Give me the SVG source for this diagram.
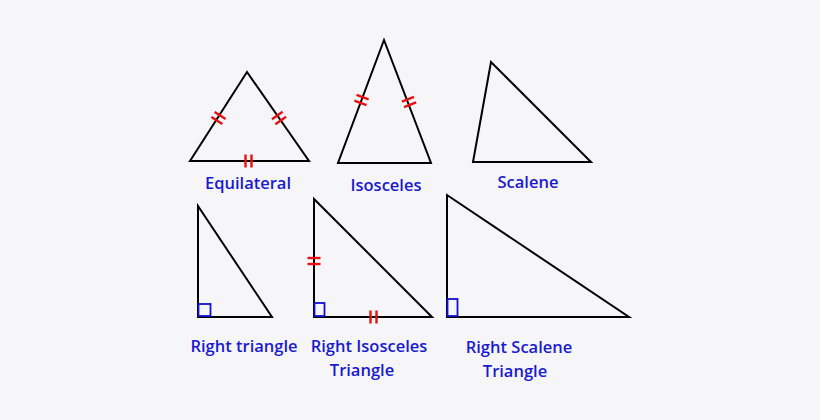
<svg xmlns="http://www.w3.org/2000/svg" width="820" height="420" viewBox="0 0 820 420">
<style>
.tri{fill:none;stroke:#000;stroke-width:2;stroke-linejoin:miter}
.sq{fill:none;stroke:#1010d0;stroke-width:1.8}
.tk{stroke:#e81010;stroke-width:2.4}
.lb{font-family:"Open Sans","Liberation Sans",sans-serif;font-weight:600;font-size:16.5px;fill:#1a1ad0;text-anchor:middle}
</style>
<defs>
<g id="tick"><line class="tk" x1="-3" y1="-6.5" x2="-3" y2="6.5"/><line class="tk" x1="3" y1="-6.5" x2="3" y2="6.5"/></g>
</defs>
<rect width="820" height="420" fill="#f6f6f8"/>
<g id="equilateral">
<polygon class="tri" points="247,72 190,161 309,161"/>
<use href="#tick" transform="translate(218.5,118) rotate(-57.4)"/>
<use href="#tick" transform="translate(279,118) rotate(55)"/>
<use href="#tick" transform="translate(248.5,161)"/>
<text class="lb" x="248" y="189">Equilateral</text>
</g>
<g id="isosceles">
<polygon class="tri" points="384,40 338,163 431,163"/>
<use href="#tick" transform="translate(361.5,100) rotate(-69.5)"/>
<use href="#tick" transform="translate(409,102) rotate(69.1)"/>
<text class="lb" x="386" y="191">Isosceles</text>
</g>
<g id="scalene">
<polygon class="tri" points="491,62 473,162 591,162"/>
<text class="lb" x="528" y="188">Scalene</text>
</g>
<g id="right-triangle">
<polygon class="tri" points="198,206 198,317 272,317"/>
<rect class="sq" x="198.5" y="304" width="12" height="12"/>
<text class="lb" x="244" y="352">Right triangle</text>
</g>
<g id="right-isosceles">
<polygon class="tri" points="314,199 314,317 432,317"/>
<rect class="sq" x="314.5" y="303" width="10" height="13"/>
<use href="#tick" transform="translate(314,261) rotate(90)"/>
<use href="#tick" transform="translate(373.5,317)"/>
<text class="lb" x="369" y="352">Right Isosceles</text>
<text class="lb" x="362" y="376">Triangle</text>
</g>
<g id="right-scalene">
<polygon class="tri" points="447,195 447,317 629,317"/>
<rect class="sq" x="447.5" y="299" width="10" height="17"/>
<text class="lb" x="519" y="353">Right Scalene</text>
<text class="lb" x="515" y="377">Triangle</text>
</g>
<g id="connectors"/>
</svg>
